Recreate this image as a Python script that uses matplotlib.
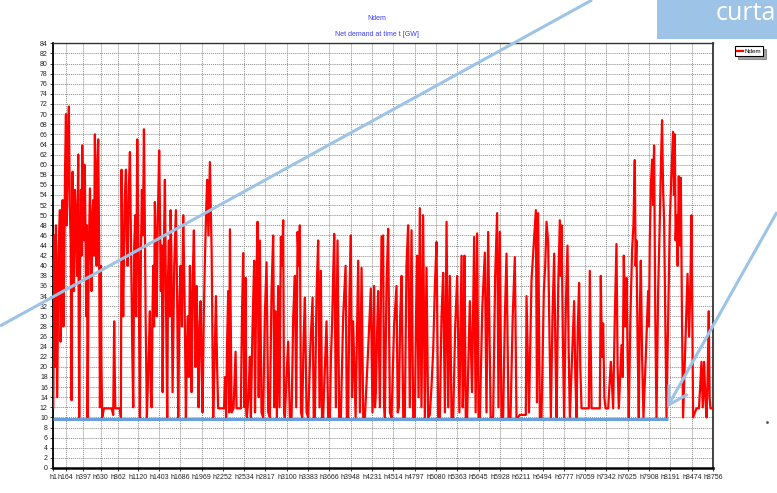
import matplotlib
matplotlib.use("Agg")
import matplotlib.pyplot as plt
from matplotlib.lines import Line2D
from matplotlib.patches import Rectangle

plt.rcParams['font.family'] = ['Liberation Sans', 'DejaVu Sans']

# ---------------- data (hour, Ndem GW) ----------------
winter_start = [(1, 12), (10, 34), (20, 46), (28, 20), (36, 48), (45, 30), (53, 14), (70, 42),
                (89, 51), (97, 25), (106, 30), (115, 47), (125, 53), (135, 28), (146, 40),
                (158, 60), (169, 70), (178, 48), (186, 54), (197, 66), (208, 71.5), (220, 52),
                (231, 45), (238, 30), (244, 13.4), (250, 45), (257, 58.6), (266, 40), (275, 35),
                (288, 55), (301, 50), (316, 38), (332, 62), (338, 30), (345, 10), (356, 40),
                (368, 55), (376, 42), (385, 63.8), (396, 50), (407, 45), (414, 60), (421, 57),
                (430, 44), (438, 30), (447, 48), (456, 10), (470, 40), (487, 55.3), (498, 45),
                (509, 35), (520, 50), (531, 53), (542, 42), (553, 66), (565, 50), (576, 40),
                (586, 60), (597, 65), (608, 46), (620, 12), (633, 40), (640, 20), (650, 10),
                (673, 11.8)]
late_winter = [(775, 11.8), (796, 10.5), (809, 29), (823, 11.8), (885, 11.8), (898, 10), (907, 59),
               (918, 40), (929, 30), (947, 52), (965, 59), (976, 45), (987, 40), (1003, 55),
               (1018, 62.5), (1030, 48), (1040, 35), (1050, 22), (1062, 12), (1075, 44),
               (1088, 50), (1100, 30), (1115, 65), (1124, 52), (1133, 40), (1141, 25),
               (1150, 10), (1163, 42), (1177, 55), (1190, 46), (1204, 67), (1215, 50),
               (1226, 30), (1235, 20), (1243, 10), (1263, 20), (1283, 31), (1295, 15),
               (1306, 12), (1317, 30), (1327, 40), (1338, 28), (1349, 52.6), (1360, 45),
               (1372, 30), (1389, 50), (1406, 62.8), (1418, 48), (1429, 35), (1440, 44),
               (1452, 15), (1467, 42), (1482, 57), (1497, 32), (1513, 10), (1524, 38),
               (1535, 45), (1546, 30), (1558, 51), (1570, 40), (1584, 15), (1606, 40),
               (1628, 51), (1644, 35), (1659, 10), (1675, 32), (1690, 40), (1708, 28),
               (1725, 50), (1742, 35), (1761, 10), (1775, 24), (1787, 30), (1800, 18),
               (1814, 40), (1825, 30), (1836, 15), (1852, 38), (1867, 47), (1878, 32),
               (1889, 20), (1896, 30), (1903, 36), (1916, 25), (1929, 12), (1943, 28),
               (1956, 33), (1970, 20), (1982, 11), (1998, 30), (2013, 41), (2028, 50),
               (2043, 57), (2060, 46), (2079, 60.5), (2090, 52), (2102, 43), (2112, 28),
               (2123, 10), (2140, 20), (2159, 34), (2175, 20), (2189, 11.8)]
spring = [(2212, 11.8), (2267, 11.8), (2281, 18), (2294, 10), (2308, 25), (2322, 35), (2334, 11),
          (2345, 47.2), (2356, 30), (2367, 11), (2393, 11.8), (2420, 23), (2433, 11.8),
          (2490, 11.8), (2505, 30), (2521, 42.5), (2537, 12), (2553, 37.6), (2562, 11),
          (2570, 10), (2590, 14), (2610, 22), (2623, 10), (2645, 28), (2667, 41), (2678, 11),
          (2690, 30), (2700, 40), (2712, 48.7), (2727, 14), (2742, 45), (2764, 11), (2786, 10),
          (2808, 30), (2831, 40.7), (2853, 11), (2875, 10), (2897, 35), (2919, 46), (2935, 12),
          (2951, 31), (2968, 10), (2985, 36), (3003, 12), (3021, 45.7), (3036, 40), (3052, 49),
          (3063, 11), (3074, 10), (3096, 18), (3118, 25), (3140, 10), (3163, 10), (3185, 30),
          (3207, 38), (3225, 12), (3243, 46.7), (3258, 40), (3273, 48), (3288, 11), (3304, 10),
          (3322, 25), (3340, 33.7), (3362, 11), (3384, 10), (3413, 24), (3442, 33.7),
          (3457, 10), (3472, 10), (3494, 34), (3516, 45), (3534, 12), (3552, 39), (3567, 10),
          (3582, 10), (3605, 20), (3627, 29), (3649, 10), (3671, 10), (3686, 22), (3702, 29),
          (3715, 38), (3729, 46.3), (3751, 12), (3773, 45), (3795, 10), (3817, 10), (3848, 30),
          (3880, 40), (3897, 10), (3914, 10), (3932, 35), (3950, 46), (3965, 14), (3980, 29),
          (4013, 10), (4047, 41), (4070, 11), (4092, 39.6), (4114, 10), (4136, 10), (4175, 22),
          (4215, 35.5), (4237, 11), (4259, 36), (4270, 12), (4282, 15), (4297, 26), (4312, 35),
          (4335, 12), (4357, 45.7), (4378, 46)]
summer = [(4390, 13), (4401, 10), (4423, 36), (4445, 47.3), (4468, 11), (4490, 10), (4523, 28),
          (4556, 36), (4572, 11), (4587, 12), (4605, 30), (4623, 38), (4645, 10), (4666, 10),
          (4688, 40), (4710, 48), (4732, 12), (4755, 47), (4777, 10), (4799, 10), (4815, 30),
          (4830, 42), (4848, 14), (4865, 51.4), (4887, 12), (4909, 50), (4932, 10),
          (4954, 39.6), (4976, 10), (4998, 10.5), (5020, 16), (5042, 23), (5065, 36),
          (5087, 44.7), (5109, 10), (5131, 10), (5153, 30), (5175, 38.6), (5198, 11),
          (5220, 48.7), (5242, 12), (5264, 38), (5286, 10), (5308, 10), (5335, 28), (5361, 38),
          (5390, 11), (5419, 42), (5434, 12), (5449, 20), (5458, 42), (5475, 10), (5493, 10),
          (5511, 22), (5529, 33), (5558, 15), (5586, 45.7), (5606, 11), (5626, 46.4),
          (5644, 10), (5662, 10), (5695, 32), (5728, 42.6), (5750, 11), (5772, 46.7),
          (5805, 10), (5838, 10), (5865, 38), (5891, 50.4), (5909, 12), (5927, 46.7),
          (5949, 10), (5971, 10), (5994, 30), (6016, 42.4), (6042, 10), (6069, 10), (6098, 30),
          (6126, 41.7), (6148, 10), (6170, 10), (6192, 10.5), (6272, 10.5), (6281, 34),
          (6314, 11), (6347, 37), (6376, 44), (6405, 51), (6420, 13), (6435, 50.4), (6458, 10),
          (6480, 10), (6495, 22), (6511, 35), (6529, 40), (6547, 48.7)]
autumn = [(6568, 44.6), (6586, 26), (6604, 10), (6626, 30), (6648, 42.4), (6664, 24), (6680, 10),
          (6702, 36), (6723, 49), (6735, 38), (6746, 48), (6763, 26), (6780, 10), (6803, 32),
          (6825, 44), (6840, 24), (6856, 10), (6885, 22), (6913, 33), (6929, 18), (6945, 10),
          (6962, 28), (6979, 36.6), (6995, 20), (7011, 11.8), (7108, 11.8), (7121, 39),
          (7144, 11.8), (7254, 11.8), (7267, 38), (7282, 22), (7298, 28.6), (7314, 14),
          (7330, 11.8), (7365, 11.8), (7400, 21), (7431, 11.8), (7453, 30), (7475, 44.3),
          (7490, 20), (7506, 11.8), (7542, 24.3), (7557, 18), (7572, 42), (7590, 28),
          (7608, 37.6), (7623, 22), (7638, 10), (7660, 30), (7682, 43), (7700, 48),
          (7718, 60.9), (7729, 40), (7740, 45), (7755, 25), (7771, 10), (7784, 30), (7798, 41),
          (7815, 22), (7833, 10), (7864, 22), (7895, 35), (7906, 28), (7917, 45), (7932, 56),
          (7948, 61), (7961, 52), (7974, 63.8), (7990, 30), (8006, 10), (8028, 35), (8050, 49),
          (8065, 60), (8080, 68.8), (8094, 55), (8107, 49), (8123, 30), (8139, 10), (8161, 30),
          (8183, 49), (8204, 58), (8226, 66.5), (8238, 54), (8249, 66), (8260, 45), (8271, 50),
          (8287, 40), (8302, 57.7), (8315, 44), (8329, 57.4), (8344, 30), (8359, 10),
          (8388, 24), (8418, 38.4), (8439, 26), (8455, 36), (8471, 50), (8482, 28), (8492, 10),
          (8537, 11.8), (8570, 11.8), (8603, 21), (8620, 12), (8638, 21), (8654, 14),
          (8670, 10), (8685, 18), (8700, 31), (8711, 14), (8722, 11.8), (8753, 11.8)]

x_labels = ['h1', 'h164', 'h397', 'h630', 'h862', 'h1120', 'h1403', 'h1686', 'h1969',
            'h2252', 'h2534', 'h2817', 'h3100', 'h3383', 'h3666', 'h3948', 'h4231',
            'h4514', 'h4797', 'h5080', 'h5363', 'h5645', 'h5928', 'h6211', 'h6494',
            'h6777', 'h7059', 'h7342', 'h7625', 'h7908', 'h8191', 'h8474', 'h8756']
x_ticks = [int(s[1:]) for s in x_labels]
y_ticks = list(range(0, 85, 2))

series_name = 'Ndem'
title = 'Ndem'
subtitle = 'Net demand at time t [GW]'

points = winter_start + late_winter + spring + summer + autumn
hours = [p[0] for p in points]
ndem = [p[1] for p in points]

# ---------------- figure ----------------
W, H = 777, 493
fig = plt.figure(figsize=(W / 100, H / 100), dpi=100)
fig.patch.set_facecolor('white')

ax = fig.add_axes([53.3 / W, 1 - 468 / H, (713 - 53.3) / W, (468 - 43.3) / H])
ax.plot(hours, ndem, color='#ff0000', lw=1.6, label=series_name, zorder=3)

ax.set_xlim(1, 8756)
ax.set_ylim(0, 84)
ax.set_xticks(x_ticks)
ax.set_xticklabels(x_labels)
ax.set_yticks(y_ticks)
ax.tick_params(axis='both', labelsize=5, length=2.5, width=0.6, pad=1.5, colors='#222222')
ax.grid(True, color='#8c8c8c', linestyle=(0, (1, 1)), linewidth=0.7, zorder=0)
ax.set_axisbelow(True)
for side in ['left', 'bottom']:
    ax.spines[side].set_color('black')
ax.spines['left'].set_linewidth(1.3)
ax.spines['bottom'].set_linewidth(1.8)
ax.spines['top'].set_linewidth(1.0)
ax.spines['right'].set_linewidth(1.3)
ax.spines['top'].set_color('#333333')
ax.spines['right'].set_color('#333333')

fig.text(377 / W, 1 - 19 / H, title, color='#3b3bff', fontsize=5, ha='center', va='center')
fig.text(377 / W, 1 - 35 / H, subtitle, color='#3b3bff', fontsize=5, ha='center', va='center')

leg = fig.legend(loc='center', bbox_to_anchor=(749 / W, 1 - 51 / H), fontsize=4.5,
                 handlelength=0.9, handletextpad=0.3, borderpad=0.35, frameon=True,
                 fancybox=False, shadow=True, edgecolor='black')
leg.get_frame().set_linewidth(0.8)

# ---------------- slide overlay (annotations) ----------------
ov = fig.add_axes([0, 0, 1, 1], zorder=10)
ov.set_xlim(0, W)
ov.set_ylim(H, 0)
ov.axis('off')
ov.patch.set_alpha(0)

ov.add_patch(Rectangle((657, 0), W - 657, 38.5, facecolor='#9dc3e6', edgecolor='none'))
ov.text(716, 13, 'curta', color='white', fontsize=18, family='Open Sans', ha='left', va='center')

light = '#9dc3e6'
ov.add_line(Line2D([0, 592], [326, 0], color=light, lw=2.2, solid_capstyle='butt'))
ov.add_line(Line2D([777, 668.5], [212, 405], color=light, lw=2.2, solid_capstyle='butt'))
ov.add_line(Line2D([669, 668.5, 686.5], [386, 405, 395], color=light, lw=2.2,
                   solid_joinstyle='miter'))
ov.add_line(Line2D([53, 668], [419, 419], color='#6a9fd8', lw=2.2, solid_capstyle='butt'))
ov.plot([767], [422], marker='.', color='#555555', markersize=2)

fig.savefig('out.png', dpi=100)
